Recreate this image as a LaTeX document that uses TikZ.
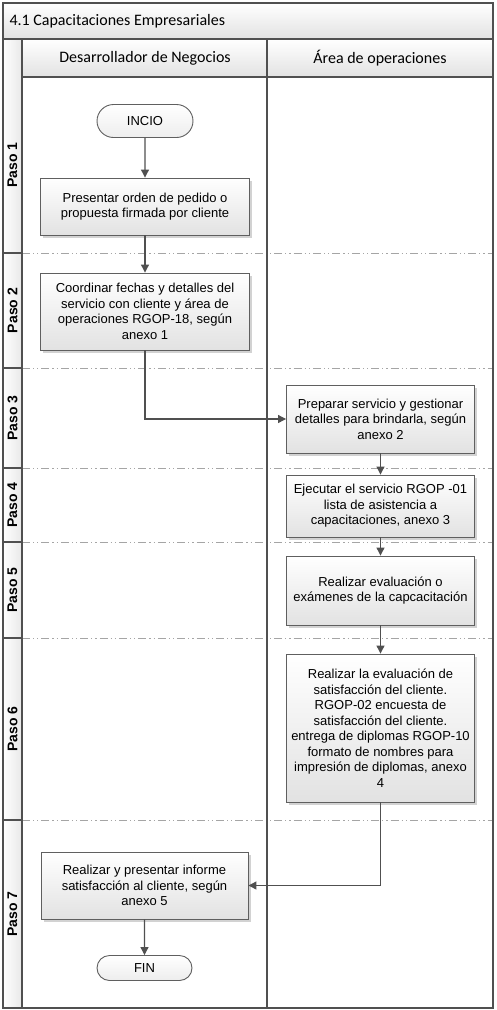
\documentclass[tikz,border=0pt]{standalone}
\usepackage{fontspec}
\setmainfont{Liberation Sans}
\newfontfamily\titulofont{Carlito}
\usetikzlibrary{arrows.meta,shapes.misc,shadows}
\definecolor{linea}{RGB}{80,80,80}
\definecolor{borde}{RGB}{95,95,95}
\definecolor{separa}{RGB}{165,165,165}
\definecolor{cabeza}{RGB}{226,226,226}
\tikzset{
	marco/.style={draw=linea, line width=1.1pt},
	proceso/.style={draw=borde, line width=0.9pt, top color=white, bottom color=cabeza,
		drop shadow={shadow xshift=2.5pt, shadow yshift=-2.5pt, fill=black!35, opacity=0.5},
		align=center, inner sep=2pt, font=\fontsize{13}{15.5}\selectfont},
	terminal/.style={rounded rectangle, draw=borde, line width=0.9pt, top color=white,
		bottom color=black!7, inner sep=0pt, font=\fontsize{13}{15.5}\selectfont},
	flecha/.style={draw=linea, line width=1.1pt, -{Triangle[length=8pt,width=8pt]}},
	separador/.style={draw=separa, line width=1pt,
		dash pattern=on 8pt off 3pt on 1.2pt off 3pt on 1.2pt off 3pt},
	paso/.style={rotate=90, font=\bfseries\fontsize{14}{14}\selectfont},
	carril/.style={font=\titulofont\fontsize{16}{16}\selectfont}
}
\begin{document}
\begin{tikzpicture}[x={(1pt,0)},y={(0,-1pt)}]
	\useasboundingbox (0,0) rectangle (497,1010);
	% fondos
	\fill[top color=white, bottom color=cabeza] (3,3) rectangle (493,39);
	\fill[top color=white, bottom color=cabeza] (22,39) rectangle (493,77);
	\fill[left color=white, right color=black!9] (3,39) rectangle (22,1008);
	% titulo y carriles
	\node[carril, anchor=west] (titulo) at (6,21) {4.1 Capacitaciones Empresariales};
	\node[carril] (desarrollador) at (145,58) {Desarrollador de Negocios};
	\node[carril] (area) at (380,58) {Área de operaciones};
	% pasos
	\foreach \y in {253,368,468,542,638,820}{
		\draw[separador] (22,\y) -- (493,\y);
		\draw[marco] (3,\y) -- (22,\y);
	}
	\foreach \n/\y in {1/165,2/310.5,3/418,4/505,5/590,6/729,7/914}
		\node[paso] (paso\n) at (12.5,\y) {Paso \n};
	% lineas del marco
	\draw[marco] (3,3) rectangle (493,1008);
	\draw[marco] (3,39) -- (493,39);
	\draw[marco] (22,39) -- (22,1008);
	\draw[marco] (22,77) -- (493,77);
	\draw[marco] (267,39) -- (267,1008);
	% actividades
	\node[terminal, minimum width=96, minimum height=33] (inicio) at (145,121) {INCIO};
	\node[proceso, minimum width=209, minimum height=57] (presentar) at (145,206.5)
		{Presentar orden de pedido o\\propuesta firmada por cliente};
	\node[proceso, minimum width=209, minimum height=77] (coordinar) at (145,311.5)
		{Coordinar fechas y detalles del\\servicio con cliente y área de\\operaciones RGOP-18, según\\anexo 1};
	\node[proceso, minimum width=188, minimum height=68] (preparar) at (380.5,419)
		{Preparar servicio y gestionar\\detalles para brindarla, según\\anexo 2};
	\node[proceso, minimum width=188, minimum height=62] (ejecutar) at (380.5,506)
		{Ejecutar el servicio RGOP -01\\lista de asistencia a\\capacitaciones, anexo 3};
	\node[proceso, minimum width=188, minimum height=69] (evaluar) at (380.5,590.5)
		{Realizar evaluación o\\exámenes de la capcacitación};
	\node[proceso, minimum width=188, minimum height=148] (satisfaccion) at (380.5,728)
		{Realizar la evaluación de\\satisfacción del cliente.\\RGOP-02 encuesta de\\satisfacción del cliente.\\entrega de diplomas RGOP-10\\formato de nombres para\\impresión de diplomas, anexo\\4};
	\node[proceso, minimum width=207, minimum height=67] (informe) at (144.5,885.5)
		{Realizar y presentar informe\\satisfacción al cliente, según\\anexo 5};
	\node[terminal, minimum width=95, minimum height=25] (fin) at (144.5,968) {FIN};
	% flujo
	\draw[flecha] (inicio) -- (presentar);
	\draw[flecha] (presentar) -- (coordinar);
	\draw[flecha] (coordinar) |- (preparar);
	\draw[flecha] (preparar) -- (ejecutar);
	\draw[flecha] (ejecutar) -- (evaluar);
	\draw[flecha] (evaluar) -- (satisfaccion);
	\draw[flecha] (satisfaccion) |- (informe);
	\draw[flecha] (informe) -- (fin);
\end{tikzpicture}
\end{document}
